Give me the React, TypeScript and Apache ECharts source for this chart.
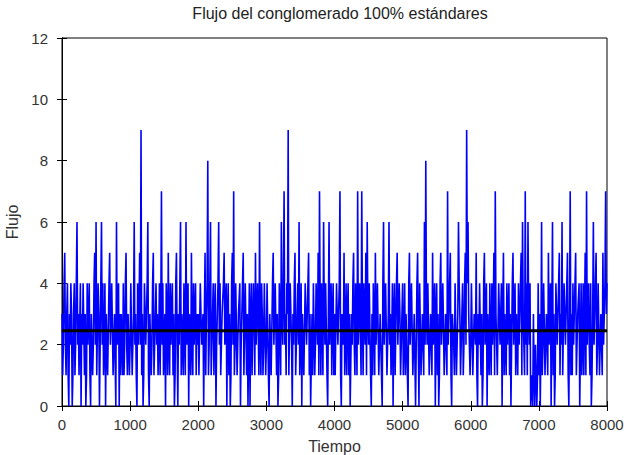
import React, { useEffect, useRef } from "react";
import * as echarts from "echarts";

const TITLE = "Flujo del conglomerado 100% estándares";
const X_NAME = "Tiempo";
const Y_NAME = "Flujo";
const TIME_STEP = 10;

// values read at t = 0, 20, 40, ...
const flowA = [3,2,5,1,4,0,2,3,1,4, 2,6,3,1,0,2,4,3,1,2, 4,0,3,2,5,6,1,3,2,6, 4,2,0,3,1,5,2,4,1,3, 6,2,0,1,3,4,2,5,1,3];
const flowB = [2,4,1,6,3,0,2,5,9,3, 1,4,2,6,0,3,2,5,1,4, 3,2,1,7,4,2,0,3,5,1, 2,4,3,1,5,0,2,6,3,1, 4,6,2,0,3,5,1,2,4,3];
const flowC = [3,1,4,2,0,5,3,8,2,6, 1,4,3,0,2,6,4,1,3,5, 2,0,4,3,1,5,7,2,4,1, 3,0,2,5,1,4,3,2,0,4, 1,3,5,2,4,6,1,3,2,4];
const flowD = [2,4,0,3,1,5,2,4,3,1, 4,6,2,7,3,4,9,1,3,0, 2,5,1,4,6,2,0,3,1,4, 2,5,3,0,1,4,2,3,5,7, 1,3,6,2,4,0,6,3,1,4];
const flowE = [3,1,4,2,7,0,3,5,2,1, 4,3,0,2,5,1,3,7,2,4, 7,1,3,5,6,2,4,0,1,3, 5,2,4,1,3,0,6,2,4,1, 6,3,2,0,4,1,5,2,3,1];
const flowF = [4,2,1,3,0,5,2,4,1,3, 2,5,0,4,1,3,6,8,2,4, 1,3,5,2,0,4,3,1,5,2, 4,1,3,7,2,5,0,3,1,4, 2,6,3,1,4,2,5,9,6,3];
const flowG = [2,4,1,3,5,0,2,4,3,1, 5,2,0,3,4,1,2,5,7,3, 1,4,2,0,5,3,1,2,4,3, 0,5,2,1,3,4,2,5,6,3, 7,4,6,2,0,1,3,0,2,1];
const flowH = [1,0,6,2,4,1,3,5,2,0, 6,3,1,4,2,5,3,6,1,4, 2,5,0,7,3,4,2,5,1,3, 0,4,2,1,5,7,3,2,4,1, 6,3,5,2,4,1,3,5,2,7, 4];

// values read at t = 10, 30, 50, ...
const flowOddA = [1,4,2,3,1,3,4,0,3,1, 4,2,1,4,3,4,1,0,4,3, 1,3,1,4,2,1,4,0,4,2, 1,4,3,1,4,2,4,1,3,0, 2,4,3,3,1,1,4,2,3,1];
const flowOddB = [4,1,3,2,1,4,3,2,1,0, 4,2,4,1,3,1,4,1,3,2, 1,4,3,2,1,3,4,1,2,4, 3,1,0,4,2,3,4,1,2,4, 1,2,4,3,1,2,4,3,1,2];
const flowOddC = [1,4,2,3,3,1,4,1,4,1, 3,1,4,2,4,2,1,3,4,2, 4,3,1,0,4,2,1,4,1,3, 4,2,4,1,4,1,0,4,3,1, 4,1,2,4,1,2,4,1,4,1];
const flowOddD = [4,1,3,1,4,2,4,1,0,4, 1,3,4,2,1,3,1,4,2,3, 4,1,3,2,1,4,3,1,4,2, 4,1,0,3,4,1,4,2,1,3, 4,1,3,4,1,3,2,4,3,1];
const flowOddE = [1,4,2,4,1,3,2,1,4,3, 1,0,3,4,2,4,1,2,4,1, 3,4,2,1,3,4,1,3,4,1, 2,4,1,3,1,4,2,4,1,3, 2,1,4,3,1,4,2,4,1,3];
const flowOddF = [1,4,3,1,4,2,4,1,3,0, 4,2,4,1,3,1,2,3,4,1, 3,1,2,4,3,1,0,4,2,4, 1,3,1,2,4,1,3,2,4,1, 3,4,1,3,1,4,2,4,3,1];
const flowOddG = [4,1,3,2,1,3,4,1,0,4, 2,4,3,1,2,4,3,1,3,1, 4,2,4,3,1,2,4,3,1,0, 4,2,4,3,1,2,4,1,3,1, 2,1,3,4,1,0,1,2,0,4];
const flowOddH = [3,2,1,4,1,3,1,2,4,3, 1,0,4,2,4,1,2,1,4,2, 4,1,3,1,1,2,4,1,3,4, 2,1,4,3,1,2,4,1,0,3, 2,4,1,4,1,3,1,2,4,3];

const flowEven = [...flowA, ...flowB, ...flowC, ...flowD, ...flowE, ...flowF, ...flowG, ...flowH];
const flowOdd = [...flowOddA, ...flowOddB, ...flowOddC, ...flowOddD, ...flowOddE, ...flowOddF, ...flowOddG, ...flowOddH];
const meanFlow = 2.45;
const xRange = [0, 8000];
const yRange = [0, 12];

export default function App() {
  const ref = useRef<HTMLDivElement>(null);
  useEffect(() => {
    if (!ref.current) return;
    const chart = echarts.init(ref.current, null, { renderer: "svg" });
    const data: number[][] = [];
    flowEven.forEach((v, i) => {
      data.push([2 * i * TIME_STEP, v]);
      if (i < flowOdd.length) data.push([(2 * i + 1) * TIME_STEP, flowOdd[i]]);
    });
    const font = "'Liberation Sans', Arial, sans-serif";
    const tickStyle = { show: true, inside: true, length: 5, lineStyle: { color: "#000", width: 1 } };
    const labelColor = "#333";
    chart.setOption({
      animation: false,
      title: {
        text: TITLE,
        left: 335,
        textAlign: "center",
        top: 0,
        textStyle: { fontFamily: font, fontSize: 16, fontWeight: "normal", color: "#222" },
      },
      grid: {
        left: 62, right: 26, top: 38, bottom: 49, show: true, borderColor: "#000", borderWidth: 1,
        backgroundColor: "#fff", containLabel: false, outerBoundsMode: "none",
      },
      xAxis: [
        {
          type: "value", min: xRange[0], max: xRange[1], interval: 1000, position: "bottom",
          name: X_NAME, nameLocation: "middle", nameGap: 32,
          nameTextStyle: { fontFamily: font, fontSize: 16, color: labelColor },
          axisLine: { show: true, lineStyle: { color: "#000" } },
          axisTick: tickStyle,
          axisLabel: { fontFamily: font, fontSize: 15, color: labelColor, margin: 11, formatter: (v: number) => String(v) },
          splitLine: { show: false },
        },
        {
          type: "value", min: xRange[0], max: xRange[1], interval: 1000, position: "top",
          axisLine: { show: true, lineStyle: { color: "#000" } },
          axisTick: tickStyle, axisLabel: { show: false }, splitLine: { show: false },
        },
      ],
      yAxis: [
        {
          type: "value", min: yRange[0], max: yRange[1], interval: 2, position: "left",
          name: Y_NAME, nameLocation: "middle", nameGap: 34, nameRotate: 90,
          nameTextStyle: { fontFamily: font, fontSize: 16, color: labelColor },
          axisLine: { show: true, lineStyle: { color: "#000" } },
          axisTick: tickStyle,
          axisLabel: { fontFamily: font, fontSize: 15, color: labelColor, margin: 14 },
          splitLine: { show: false },
        },
        {
          type: "value", min: yRange[0], max: yRange[1], interval: 2, position: "right",
          axisLine: { show: true, lineStyle: { color: "#000" } },
          axisTick: tickStyle, axisLabel: { show: false }, splitLine: { show: false },
        },
      ],
      series: [
        {
          type: "line", data, showSymbol: false, symbol: "none",
          lineStyle: { color: "#0000ff", width: 1.6 }, xAxisIndex: 0, yAxisIndex: 0,
        },
        {
          type: "line", data: [[xRange[0], meanFlow], [xRange[1], meanFlow]], showSymbol: false, symbol: "none",
          lineStyle: { color: "#000", width: 3 }, xAxisIndex: 0, yAxisIndex: 0,
        },
      ],
    });
    return () => chart.dispose();
  }, []);
  return <div ref={ref} style={{ width: 633, height: 455, position: "absolute", left: 0, top: 0 }} />;
}
